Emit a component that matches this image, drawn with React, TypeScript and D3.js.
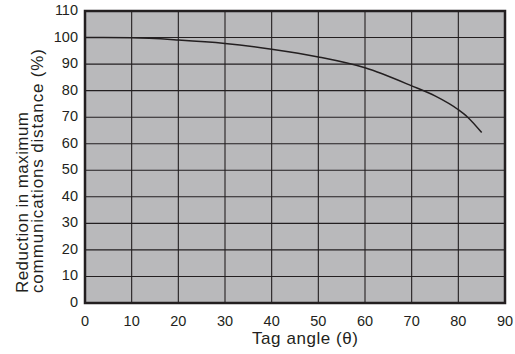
import React from "react";
import * as d3 from "d3";

const angles = [0, 10, 20, 30, 40, 50, 60, 70, 75, 80, 82, 85];
const reduction = [100, 99.9, 99.1, 97.8, 95.6, 92.7, 88.6, 81.8, 78, 72.8, 70, 64.2];
const xTicks = [0, 10, 20, 30, 40, 50, 60, 70, 80, 90];
const yTicks = [0, 10, 20, 30, 40, 50, 60, 70, 80, 90, 100, 110];
const xTitle = "Tag angle (θ)";
const yTitle = ["Reduction in maximum", "communications distance (%)"];

export default function App() {
  const W = 515, H = 354;
  const left = 85, right = 505, top = 11, bottom = 303;
  const x = d3.scaleLinear().domain([0, 90]).range([left, right]);
  const y = d3.scaleLinear().domain([0, 110]).range([bottom, top]);
  const line = d3
    .line<number>()
    .x((_, i) => x(angles[i]))
    .y((d) => y(d))
    .curve(d3.curveMonotoneX);
  const font = "'Liberation Sans', Arial, Helvetica, sans-serif";
  const ink = "#231f20";
  const yTitleLen = [181, 244];
  return (
    <svg
      width={W}
      height={H}
      style={{ position: "absolute", left: 0, top: 0, background: "#fff" }}
      fontFamily={font}
    >
      <rect x={left} y={top} width={right - left} height={bottom - top} fill="#b9b9bb" />
      {xTicks.slice(1, -1).map((t) => (
        <line key={"gx" + t} x1={x(t)} x2={x(t)} y1={top} y2={bottom} stroke={ink} strokeWidth={1.1} />
      ))}
      {yTicks.slice(1, -1).map((t) => (
        <line key={"gy" + t} x1={left} x2={right} y1={y(t)} y2={y(t)} stroke={ink} strokeWidth={1.1} />
      ))}
      <path d={line(reduction) || ""} fill="none" stroke={ink} strokeWidth={1.5} />
      <rect
        x={left}
        y={top}
        width={right - left}
        height={bottom - top}
        fill="none"
        stroke={ink}
        strokeWidth={2.5}
      />
      {yTicks.map((t) => (
        <text
          key={"ty" + t}
          x={78}
          y={y(t) + 4}
          textAnchor="end"
          fontSize={14.5}
          fill={ink}
        >
          {t}
        </text>
      ))}
      {xTicks.map((t) => (
        <text
          key={"tx" + t}
          x={x(t)}
          y={325.5}
          textAnchor="middle"
          fontSize={14.5}
          fill={ink}
        >
          {t}
        </text>
      ))}
      <text
        x={252}
        y={344}
        textAnchor="start"
        fontSize={17}
        fill={ink}
        textLength={106}
        lengthAdjust="spacing"
      >
        {xTitle}
      </text>
      {yTitle.map((s, i) => (
        <text
          key={"yt" + i}
          transform={`translate(${28 + i * 15},293) rotate(-90)`}
          textAnchor="start"
          fontSize={17}
          fill={ink}
          textLength={yTitleLen[i]}
          lengthAdjust="spacing"
        >
          {s}
        </text>
      ))}
    </svg>
  );
}
